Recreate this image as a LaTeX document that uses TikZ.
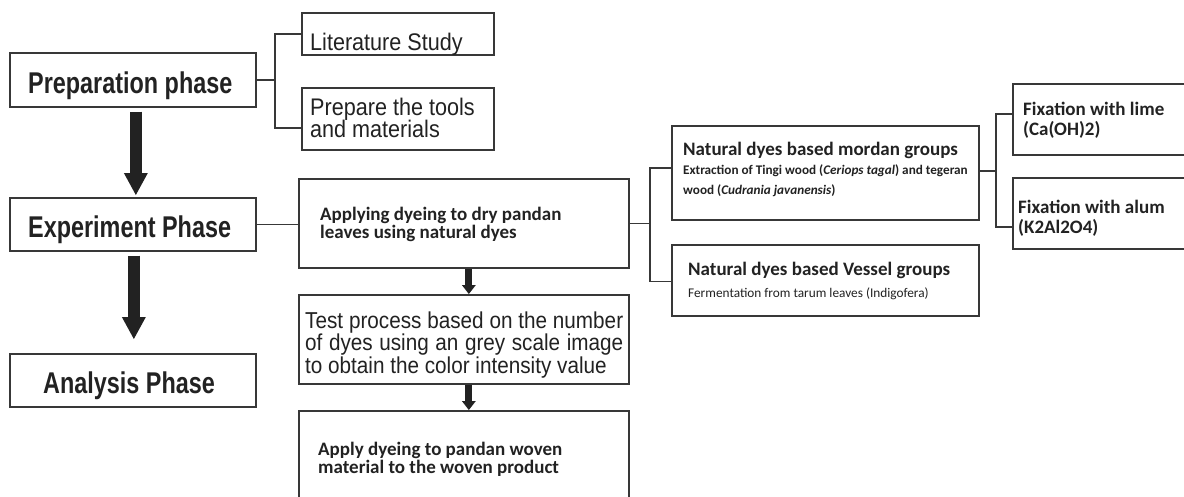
\documentclass[tikz,border=0pt]{standalone}
\usepackage{fontspec}
\usetikzlibrary{arrows.meta,calc}
\newfontfamily\arialN[FakeStretch=0.9]{Liberation Sans}
\newfontfamily\arialT[FakeStretch=0.9]{Liberation Sans}
\newfontfamily\arialBN[FakeStretch=0.78]{Liberation Sans}
\newfontfamily\calib{Carlito}
\definecolor{ink}{HTML}{222222}
\definecolor{edge}{HTML}{383838}
\begin{document}
\begin{tikzpicture}[x=1pt,y=-1pt,
  box/.style={draw=edge, line width=1.7pt, fill=white, inner sep=0pt, anchor=north west},
  conn/.style={draw=edge, line width=1.7pt},
  bigarrow/.style={draw=ink, line width=12pt, -{Triangle[width=24pt,length=22pt,line width=0pt]}},
  smallarrow/.style={draw=ink, line width=7pt, -{Triangle[width=14pt,length=9pt,line width=0pt]}},
  txt/.style={anchor=base west, inner sep=0pt, text=ink},
  phase/.style={txt, font=\arialBN\bfseries\fontsize{30}{30}\selectfont},
  ar/.style={txt, font=\arialN\fontsize{24}{24}\selectfont},
  art/.style={txt, font=\arialT\fontsize{23}{23}\selectfont},
  cb/.style={txt, font=\calib\bfseries\fontsize{19}{19}\selectfont},
  cbs/.style={txt, font=\calib\bfseries\fontsize{13.2}{13.2}\selectfont},
  crs/.style={txt, font=\calib\fontsize{13.3}{13.3}\selectfont}
]
\clip (0,0) rectangle (1184,496);
\fill[white] (0,0) rectangle (1184,496);

% boxes
\node[box, minimum width=246pt, minimum height=54pt] (prep) at (9,52) {};
\node[box, minimum width=246pt, minimum height=53pt] (exp) at (9,197) {};
\node[box, minimum width=246pt, minimum height=53pt] (ana) at (9,353) {};
\node[box, minimum width=192pt, minimum height=42pt] (lit) at (301,12) {};
\node[box, minimum width=192pt, minimum height=62pt] (tools) at (301,87) {};
\node[box, minimum width=330pt, minimum height=89pt] (apply) at (298,178) {};
\node[box, minimum width=330pt, minimum height=89pt] (test) at (298,294) {};
\node[box, minimum width=330pt, minimum height=95pt] (final) at (298,410) {};
\node[box, minimum width=307pt, minimum height=94pt] (mordan) at (671,125) {};
\node[box, minimum width=307pt, minimum height=71pt] (vessel) at (671,244) {};
\node[box, minimum width=185pt, minimum height=71pt] (lime) at (1012,83) {};
\node[box, minimum width=185pt, minimum height=71pt] (alum) at (1012,177) {};

% connectors
\draw[conn] (prep.east) -- ++(18,0) coordinate (b1);
\draw[conn] (lit.west) -| (b1);
\draw[conn] ([yshift=-9pt]tools.west) -| (b1);
\draw[conn] (exp.east) -- (exp.east -| apply.west);
\draw[conn] (apply.east) -- ++(20,0) coordinate (b2);
\draw[conn] ([yshift=5pt]mordan.west) -| (b2);
\draw[conn] ([yshift=-1pt]vessel.west) -| (b2);
\draw[conn] ([yshift=2pt]mordan.east) -- ++(16,0) coordinate (b3);
\draw[conn] ([yshift=5.5pt]lime.west) -| (b3);
\draw[conn] ([yshift=-13.5pt]alum.west) -| (b3);

% arrows
\draw[bigarrow] ([xshift=3pt,yshift=-4pt]prep.south) -- ([xshift=3pt,yshift=2pt]exp.north);
\draw[bigarrow] ([xshift=1pt,yshift=-4pt]exp.south) -- ([xshift=1pt,yshift=14pt]ana.north);
\draw[smallarrow] ([xshift=5pt]apply.south) -- ([xshift=5pt]test.north);
\draw[smallarrow] ([xshift=5pt]test.south) -- ([xshift=5pt]final.north);

% texts
\node[phase] (tprep) at (28,93) {Preparation phase};
\node[phase] (texp) at (28,237) {Experiment Phase};
\node[phase] (tana) at (43,393) {Analysis Phase};
\node[ar] (tlit) at (310,50) {Literature Study};
\node[ar] (ttoolsa) at (310,115) {Prepare the tools};
\node[ar] (ttoolsb) at (310,137) {and materials};
\node[cb] (tapplya) at (320,220) {Applying dyeing to dry pandan};
\node[cb] (tapplyb) at (320,238) {leaves using natural dyes};
\node[art] (ttesta) at (305,328) {\makebox[318pt][s]{Test process based on the number}};
\node[art] (ttestb) at (305,350) {\makebox[318pt][s]{of dyes using an grey scale image}};
\node[art] (ttestc) at (305,373) {to obtain the color intensity value};
\node[cb] (tfinala) at (318,455) {Apply dyeing to pandan woven};
\node[cb] (tfinalb) at (318,473) {material to the woven product};
\node[cb] (tmord) at (683,155) {Natural dyes based mordan groups};
\node[cbs] (tmorda) at (683,174) {Extraction of Tingi wood (\textit{Ceriops tagal}) and tegeran};
\node[cbs] (tmordb) at (683,194) {wood (\textit{Cudrania javanensis})};
\node[cb] (tves) at (688,275) {Natural dyes based Vessel groups};
\node[crs] (tvesa) at (688,297) {Fermentation from tarum leaves (Indigofera)};
\node[cb] (tlimea) at (1023,115) {Fixation with lime};
\node[cb] (tlimeb) at (1023,135) {(Ca(OH)2)};
\node[cb] (taluma) at (1018,213) {Fixation with alum};
\node[cb] (talumb) at (1018,233) {(K2Al2O4)};
\end{tikzpicture}
\end{document}
